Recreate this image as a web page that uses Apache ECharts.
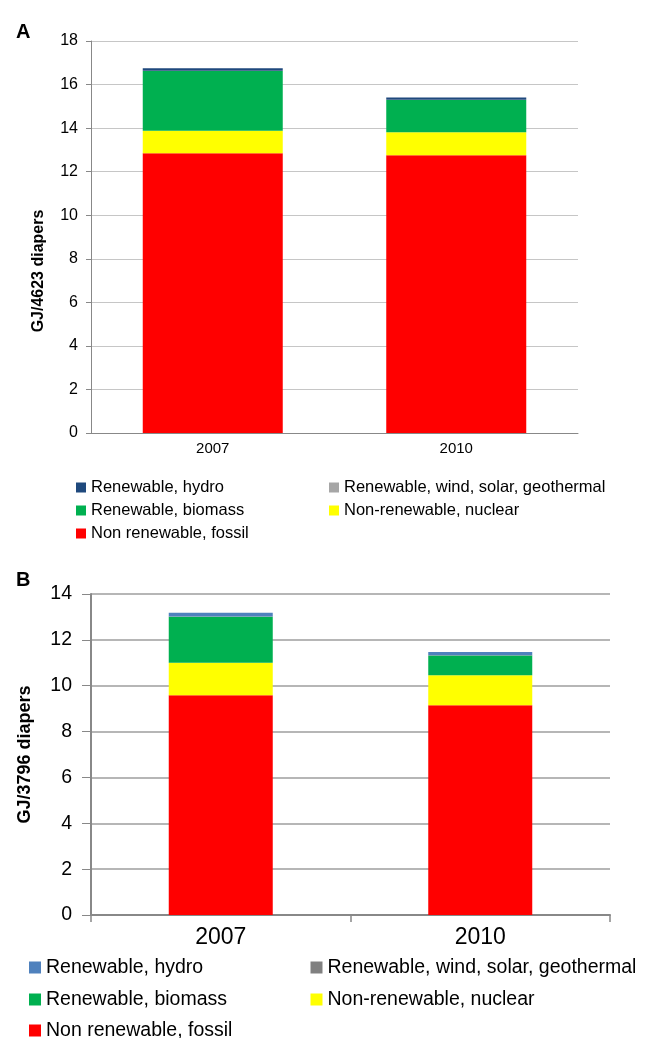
<!DOCTYPE html>
<html>
<head>
<meta charset="utf-8">
<script src="https://cdn.jsdelivr.net/npm/echarts@6/dist/echarts.min.js"></script>
<style>
html,body{margin:0;padding:0;background:#fff;}
#chart{width:648px;height:1038px;}
</style>
</head>
<body>
<div id="chart"></div>
<script>
// ---- data ----
const categories = ['2007', '2010'];
const seriesNames = ['Renewable, hydro', 'Renewable, wind, solar, geothermal', 'Renewable, biomass', 'Non-renewable, nuclear', 'Non renewable, fossil'];

// Panel A (GJ/4623 diapers)
const aFossil  = [12.84, 12.75];
const aNuclear = [1.04, 1.06];
const aBiomass = [2.74, 1.48];
const aWind    = [0.01, 0.01];
const aHydro   = [0.12, 0.10];
const aYTicks  = [0, 2, 4, 6, 8, 10, 12, 14, 16, 18];

// Panel B (GJ/3796 diapers)
const bFossil  = [9.58, 9.15];
const bNuclear = [1.42, 1.31];
const bBiomass = [2.01, 0.86];
const bWind    = [0.01, 0.01];
const bHydro   = [0.16, 0.14];
const bYTicks  = [0, 2, 4, 6, 8, 10, 12, 14];

const aColors = {hydro:'#1F497D', wind:'#A6A6A6', biomass:'#00B050', nuclear:'#FFFF00', fossil:'#FF0000'};
const bColors = {hydro:'#4F81BD', wind:'#808080', biomass:'#00B050', nuclear:'#FFFF00', fossil:'#FF0000'};

const FONT = '"Liberation Sans", Arial, Helvetica, sans-serif';

const keyOf = {};
keyOf[seriesNames[0]] = 'hydro'; keyOf[seriesNames[1]] = 'wind';
keyOf[seriesNames[2]] = 'biomass'; keyOf[seriesNames[3]] = 'nuclear'; keyOf[seriesNames[4]] = 'fossil';

function mkSeries(idx, stack, vals, colors, barWidth) {
  const order = [
    ['fossil', seriesNames[4], vals.fossil],
    ['nuclear', seriesNames[3], vals.nuclear],
    ['biomass', seriesNames[2], vals.biomass],
    ['wind', seriesNames[1], vals.wind],
    ['hydro', seriesNames[0], vals.hydro]
  ];
  return order.map(([k, name, data]) => ({
    type: 'bar', name, stack, data,
    xAxisIndex: idx, yAxisIndex: idx,
    barWidth,
    itemStyle: {color: colors[k]},
    emphasis: {disabled: true}
  }));
}

function mkLegend(left, top, size, fontSize, name, colors) {
  return {
    orient: 'vertical', left, top, padding: 0,
    itemWidth: size, itemHeight: size, icon: 'rect',
    selectedMode: false,
    textStyle: {fontFamily: FONT, fontSize, color: '#000'},
    data: [{name, itemStyle: {color: colors[keyOf[name]]}}]
  };
}

const chart = echarts.init(document.getElementById('chart'), null, {renderer: 'canvas'});

// legend slots (column x, row top)
const aCols = [76, 329], aRows = [479, 502, 525];
const bCols = [29, 310.5], bRows = [957.5, 989.5, 1020.5];

const option = {
  animation: false,
  backgroundColor: '#fff',
  textStyle: {fontFamily: FONT, color: '#000'},
  title: [
    {text: 'A', left: 11, top: 17, textStyle: {fontFamily: FONT, fontWeight: 'bold', fontSize: 20, color: '#000'}},
    {text: 'B', left: 11, top: 565, textStyle: {fontFamily: FONT, fontWeight: 'bold', fontSize: 20, color: '#000'}}
  ],
  grid: [
    {left: 91, top: 41, width: 487, height: 392, containLabel: false},
    {left: 91, top: 594, width: 519, height: 321, containLabel: false}
  ],
  xAxis: [
    {
      type: 'category', gridIndex: 0, data: categories,
      axisLine: {lineStyle: {color: '#888', width: 1}},
      axisTick: {show: false},
      axisLabel: {fontFamily: FONT, fontSize: 15, color: '#000', margin: 8}
    },
    {
      type: 'category', gridIndex: 1, data: categories,
      axisLine: {lineStyle: {color: '#888', width: 2}},
      axisTick: {show: true, length: 7, lineStyle: {color: '#888', width: 1.5}},
      axisLabel: {fontFamily: FONT, fontSize: 23, color: '#000', margin: 11}
    }
  ],
  yAxis: [
    {
      type: 'value', gridIndex: 0,
      min: aYTicks[0], max: aYTicks[aYTicks.length - 1], interval: aYTicks[1] - aYTicks[0],
      name: 'GJ/4623 diapers', nameLocation: 'middle', nameGap: 44, nameRotate: 90,
      nameTextStyle: {fontFamily: FONT, fontWeight: 'bold', fontSize: 16, color: '#000', padding: [0, 68, 0, 0]},
      axisLine: {show: true, lineStyle: {color: '#888', width: 1}},
      axisTick: {show: true, length: 5, lineStyle: {color: '#888'}},
      axisLabel: {fontFamily: FONT, fontSize: 16, color: '#000', margin: 13},
      splitLine: {show: true, lineStyle: {color: '#c6c6c6', width: 1}}
    },
    {
      type: 'value', gridIndex: 1,
      min: bYTicks[0], max: bYTicks[bYTicks.length - 1], interval: bYTicks[1] - bYTicks[0],
      name: 'GJ/3796 diapers', nameLocation: 'middle', nameGap: 57, nameRotate: 90,
      nameTextStyle: {fontFamily: FONT, fontWeight: 'bold', fontSize: 18, color: '#000'},
      axisLine: {show: true, lineStyle: {color: '#888', width: 2}},
      axisTick: {show: true, length: 9, lineStyle: {color: '#888', width: 1}},
      axisLabel: {fontFamily: FONT, fontSize: 19.5, color: '#000', margin: 19},
      splitLine: {show: true, lineStyle: {color: '#9e9e9e', width: 1.5}}
    }
  ],
  legend: [
    mkLegend(aCols[0], aRows[0], 10, 16.5, seriesNames[0], aColors),
    mkLegend(aCols[1], aRows[0], 10, 16.5, seriesNames[1], aColors),
    mkLegend(aCols[0], aRows[1], 10, 16.5, seriesNames[2], aColors),
    mkLegend(aCols[1], aRows[1], 10, 16.5, seriesNames[3], aColors),
    mkLegend(aCols[0], aRows[2], 10, 16.5, seriesNames[4], aColors),
    mkLegend(bCols[0], bRows[0], 12, 19.5, seriesNames[0], bColors),
    mkLegend(bCols[1], bRows[0], 12, 19.5, seriesNames[1], bColors),
    mkLegend(bCols[0], bRows[1], 12, 19.5, seriesNames[2], bColors),
    mkLegend(bCols[1], bRows[1], 12, 19.5, seriesNames[3], bColors),
    mkLegend(bCols[0], bRows[2], 12, 19.5, seriesNames[4], bColors)
  ],
  series: [].concat(
    mkSeries(0, 'A', {fossil: aFossil, nuclear: aNuclear, biomass: aBiomass, wind: aWind, hydro: aHydro}, aColors, 140),
    mkSeries(1, 'B', {fossil: bFossil, nuclear: bNuclear, biomass: bBiomass, wind: bWind, hydro: bHydro}, bColors, 104)
  )
};

chart.setOption(option);
</script>
</body>
</html>
